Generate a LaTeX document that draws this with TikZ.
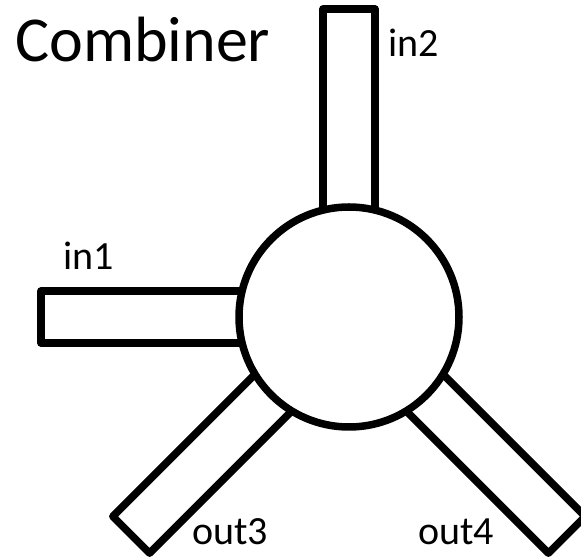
\documentclass[tikz,border=0pt]{standalone}
\usepackage{fontspec}
\setmainfont{Carlito}
\usetikzlibrary{calc}

\tikzset{
  stroke/.style={line width=7.5pt, line join=round, draw=black},
  arm/.style={stroke, rectangle, fill=white, inner sep=0pt,
              minimum width=248pt, minimum height=52pt},
  hubnode/.style={stroke, circle, fill=white, inner sep=0pt, minimum size=220pt},
  portlabel/.style={anchor=base west, inner sep=0pt, font=\fontsize{40}{48}\selectfont},
  titlelabel/.style={anchor=base west, inner sep=0pt, font=\fontsize{64}{76}\selectfont}
}

\begin{document}
\begin{tikzpicture}[x=1pt, y=1pt]
  \useasboundingbox (0,0) rectangle (581,559);

  % centre of the combiner
  \coordinate (c) at (349,242);

  % four ports, drawn first so the hub covers their inner ends
  \node[arm, rotate=90]  (armin2)  at ($(c)+(90:184)$)  {};
  \node[arm, rotate=0]   (armin1)  at ($(c)+(180:184)$) {};
  \node[arm, rotate=45]  (armout3) at ($(c)+(225:184)$) {};
  \node[arm, rotate=-45] (armout4) at ($(c)+(315:184)$) {};

  % hub
  \node[hubnode] (hub) at (c) {};

  % labels
  \node[titlelabel] (title) at (15,497) {Combiner};
  \node[portlabel] (lin2)  at (388,502) {in2};
  \node[portlabel] (lin1)  at (63,289)  {in1};
  \node[portlabel] (lout3) at (192,14)  {out3};
  \node[portlabel] (lout4) at (418,14)  {out4};
\end{tikzpicture}
\end{document}
